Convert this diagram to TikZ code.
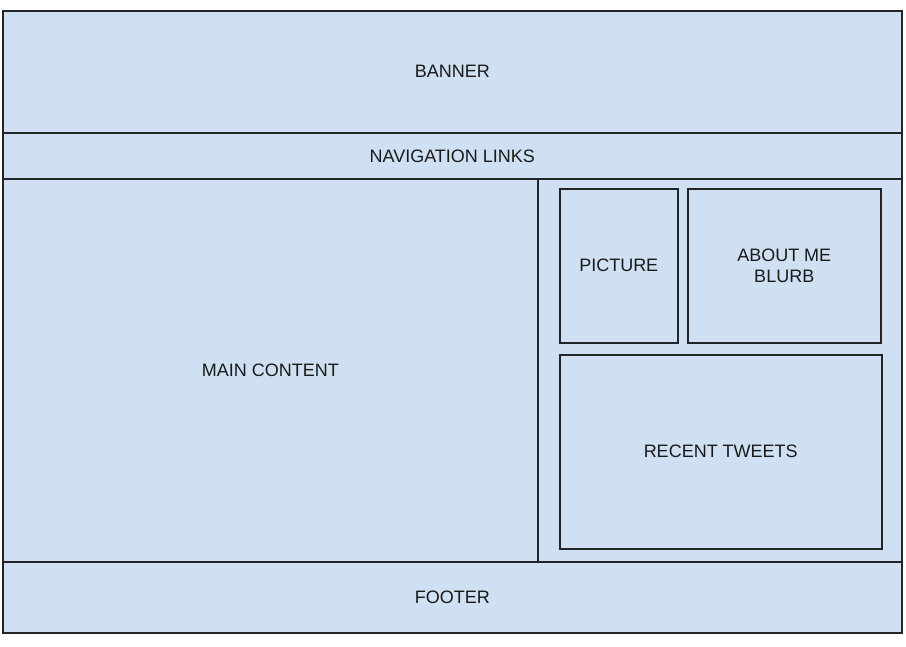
\documentclass[tikz,border=0pt]{standalone}
\usepackage{fontspec}
\setmainfont{Liberation Sans}
\definecolor{boxfill}{HTML}{CFE0F3}
\definecolor{boxline}{HTML}{222428}
\definecolor{labeltext}{HTML}{1A1A1A}
\tikzset{
  region/.style={draw=boxline, fill=boxfill, line width=1.6pt, inner sep=0pt, align=center,
    font=\fontsize{18}{20.5}\selectfont, text=labeltext, anchor=north west},
  widget/.style={region, line width=1.5pt}
}
\begin{document}
\begin{tikzpicture}[x=1pt, y=-1pt]
  \useasboundingbox (0,0) rectangle (906,646);
  \fill[white] (0,0) rectangle (906,646);
  % page regions
  \node[region, minimum width=899pt, minimum height=122pt] (banner) at (2,10) {BANNER};
  \node[region, minimum width=899pt, minimum height=46pt] (nav) at (2,132) {NAVIGATION LINKS};
  \node[region, minimum width=535pt, minimum height=383pt] (main) at (2,178) {MAIN CONTENT};
  \node[region, minimum width=364pt, minimum height=383pt] (side) at (537,178) {};
  \node[region, minimum width=899pt, minimum height=71pt] (footer) at (2,561) {FOOTER};
  % sidebar widgets
  \node[widget, minimum width=118pt, minimum height=154pt] (picture) at (559,188) {PICTURE};
  \node[widget, minimum width=193pt, minimum height=154pt] (about) at (687,188) {ABOUT ME\\BLURB};
  \node[widget, minimum width=322pt, minimum height=194pt] (tweets) at (559,354) {RECENT TWEETS};
\end{tikzpicture}
\end{document}
